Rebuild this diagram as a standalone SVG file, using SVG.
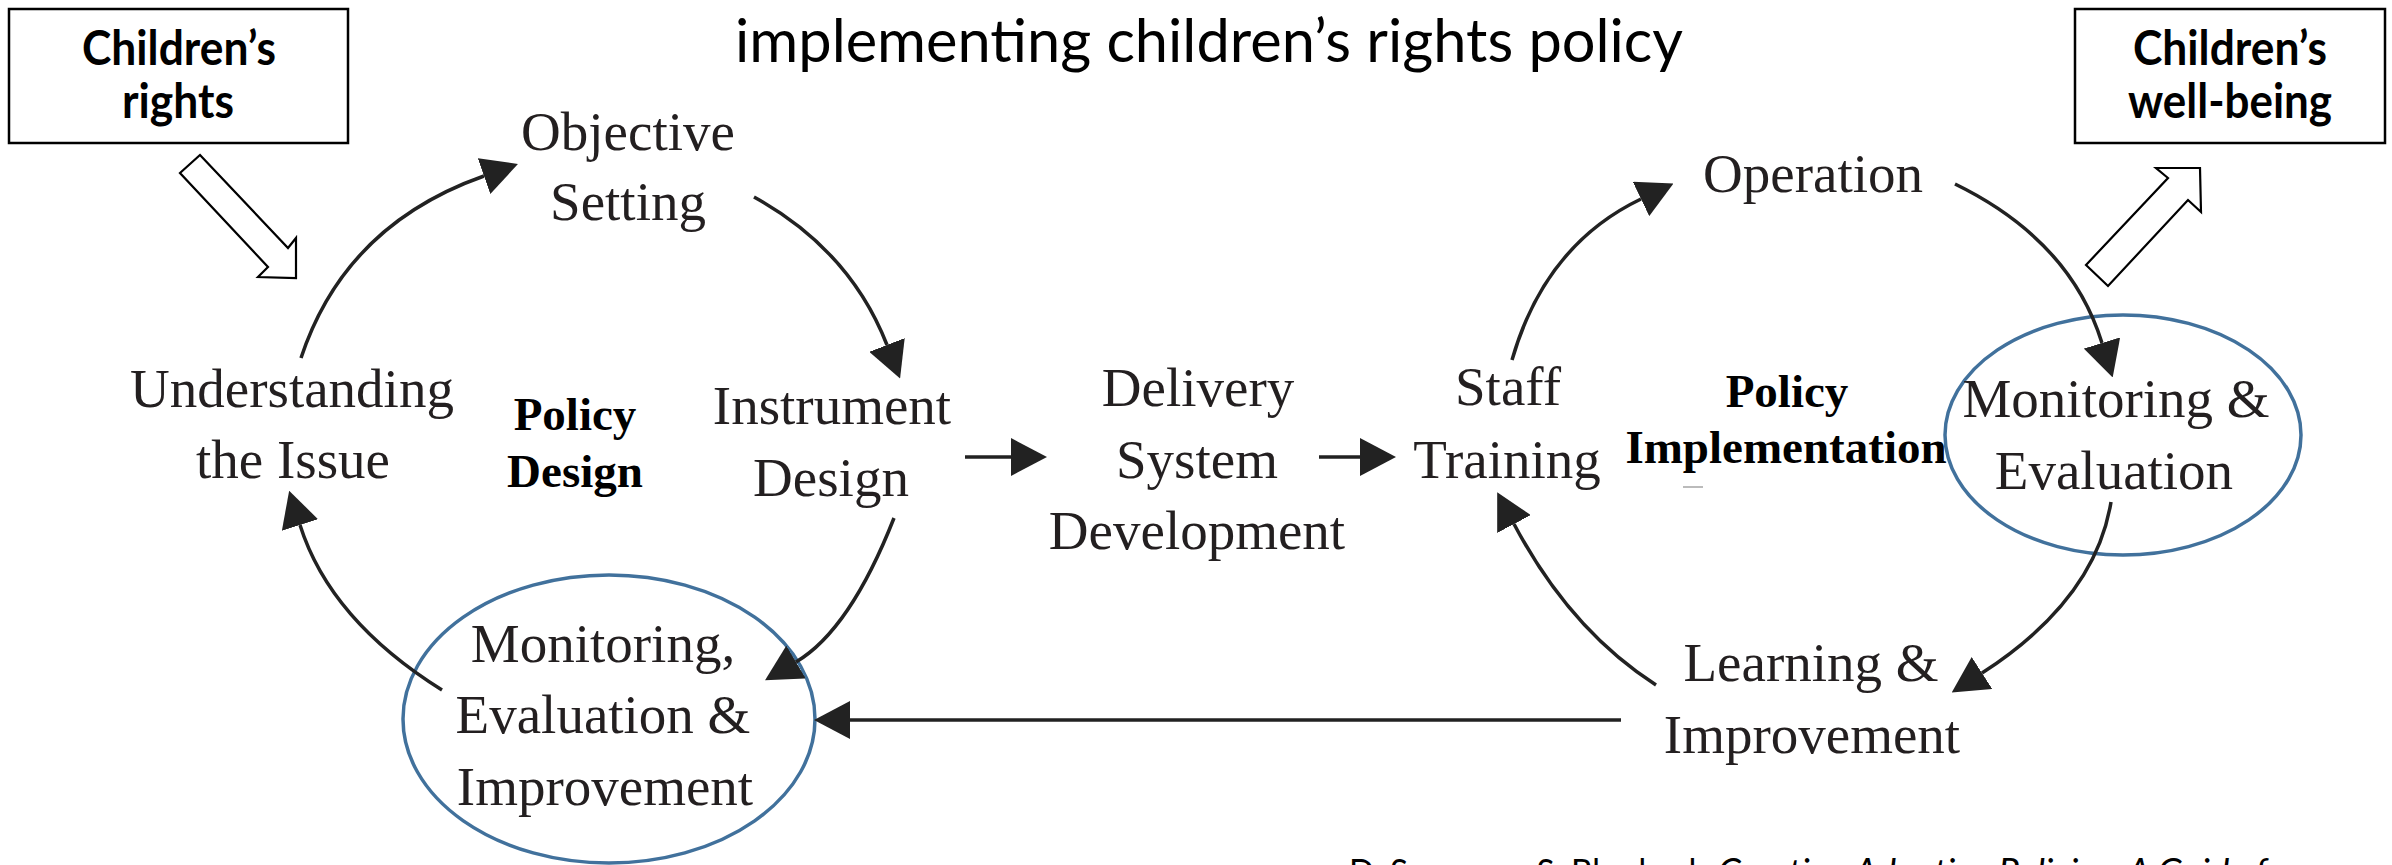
<svg xmlns="http://www.w3.org/2000/svg" width="2392" height="865" viewBox="0 0 2392 865">
<style>
.lbl{font-family:"Liberation Serif","Times New Roman",serif;font-size:55px;fill:#231f20;text-anchor:middle}
.bold{font-family:"Liberation Serif","Times New Roman",serif;font-size:47px;font-weight:bold;fill:#000;text-anchor:middle}
.box{fill:#fff;stroke:#000;stroke-width:2.5}
.boxt{font-family:Lato,"Liberation Sans",sans-serif;font-size:48px;font-weight:bold;fill:#000}
.hollow{fill:#fff;stroke:#000;stroke-width:2.2;stroke-linejoin:miter}
.ring{fill:none;stroke:#41719c;stroke-width:3.5}
.conn{fill:none;stroke:#222;stroke-width:3.5;marker-end:url(#ah)}
.sans{font-family:Lato,"Liberation Sans",sans-serif;fill:#000}
</style>
<defs>
<marker id="ah" markerUnits="userSpaceOnUse" markerWidth="36" markerHeight="38" viewBox="0 0 36 38" refX="0" refY="19" orient="auto">
<path d="M0,0 L36,19 L0,38 z" fill="#222"/>
</marker>
</defs>
<rect width="2392" height="865" fill="#fff"/>

<text id="title" class="sans" x="735" y="62" font-size="60" textLength="948" lengthAdjust="spacingAndGlyphs">implementing children’s rights policy</text>

<g id="childrens-rights">
<rect class="box" x="9" y="9" width="339" height="134"/>
<text class="boxt" x="82" y="65" textLength="194" lengthAdjust="spacingAndGlyphs">Children’s</text>
<text class="boxt" x="122" y="118" textLength="112" lengthAdjust="spacingAndGlyphs">rights</text>
</g>
<g id="childrens-wellbeing">
<rect class="box" x="2075" y="9" width="310" height="134"/>
<text class="boxt" x="2133" y="65" textLength="194" lengthAdjust="spacingAndGlyphs">Children’s</text>
<text class="boxt" x="2128" y="118" textLength="204" lengthAdjust="spacingAndGlyphs">well-being</text>
</g>

<g id="hollow-arrows">
<polygon class="hollow" points="200,155 288,248 296,238 296,278 258,277 268,267 180,173"/>
<polygon class="hollow" points="2086,265 2168,178 2156,168 2200,168 2201,212 2188,200 2108,286"/>
</g>

<g id="understanding"><text class="lbl" x="292" y="407">Understanding</text><text class="lbl" x="293" y="478">the Issue</text></g>
<g id="objective"><text class="lbl" x="628" y="150">Objective</text><text class="lbl" x="628" y="220">Setting</text></g>
<g id="policy-design"><text class="bold" x="575" y="430">Policy</text><text class="bold" x="575" y="487">Design</text></g>
<g id="instrument"><text class="lbl" x="832" y="424">Instrument</text><text class="lbl" x="831" y="496">Design</text></g>
<g id="delivery"><text class="lbl" x="1198" y="406">Delivery</text><text class="lbl" x="1197" y="478">System</text><text class="lbl" x="1197" y="549">Development</text></g>
<g id="staff"><text class="lbl" x="1508" y="405">Staff</text><text class="lbl" x="1507" y="478">Training</text></g>
<g id="operation"><text class="lbl" x="1813" y="192">Operation</text></g>
<g id="policy-implementation"><text class="bold" x="1787" y="407">Policy</text><text class="bold" x="1786" y="463">Implementation</text><line x1="1683" y1="487" x2="1703" y2="487" stroke="#bbb" stroke-width="2"/></g>
<g id="monitoring-evaluation">
<ellipse class="ring" cx="2123" cy="435" rx="178" ry="120"/>
<text class="lbl" x="2116" y="417">Monitoring &amp;</text><text class="lbl" x="2114" y="489">Evaluation</text>
</g>
<g id="learning"><text class="lbl" x="1811" y="681">Learning &amp;</text><text class="lbl" x="1812" y="753">Improvement</text></g>
<g id="mei">
<ellipse class="ring" cx="609" cy="719" rx="206" ry="144"/>
<text class="lbl" x="603" y="662">Monitoring,</text><text class="lbl" x="603" y="733">Evaluation &amp;</text><text class="lbl" x="605" y="805">Improvement</text>
</g>

<g id="connectors">
<path class="conn" d="M301,358 Q345,225 484,176"/>
<path class="conn" d="M754,197 Q850,250 887,345"/>
<path class="conn" d="M894,518 Q850,630 796,662"/>
<path class="conn" d="M442,690 Q330,620 300,525"/>
<path class="conn" d="M965,457 L1011,457"/>
<path class="conn" d="M1319,457 L1360,457"/>
<path class="conn" d="M1512,360 Q1545,245 1641,199"/>
<path class="conn" d="M1955,184 Q2070,240 2102,343"/>
<path class="conn" d="M2111,502 Q2095,600 1982,673"/>
<path class="conn" d="M1656,685 Q1570,630 1514,524"/>
<path class="conn" d="M1621,720 L850,720"/>
</g>

<g id="citation">
<text class="sans" x="1349" y="885" font-size="37" textLength="355" lengthAdjust="spacingAndGlyphs">D. Swanson, S. Bhadwal,</text>
<text class="sans" x="1718" y="885" font-size="37" font-style="italic" textLength="580" lengthAdjust="spacingAndGlyphs">Creating Adaptive Policies: A Guide for</text>
</g>
</svg>
